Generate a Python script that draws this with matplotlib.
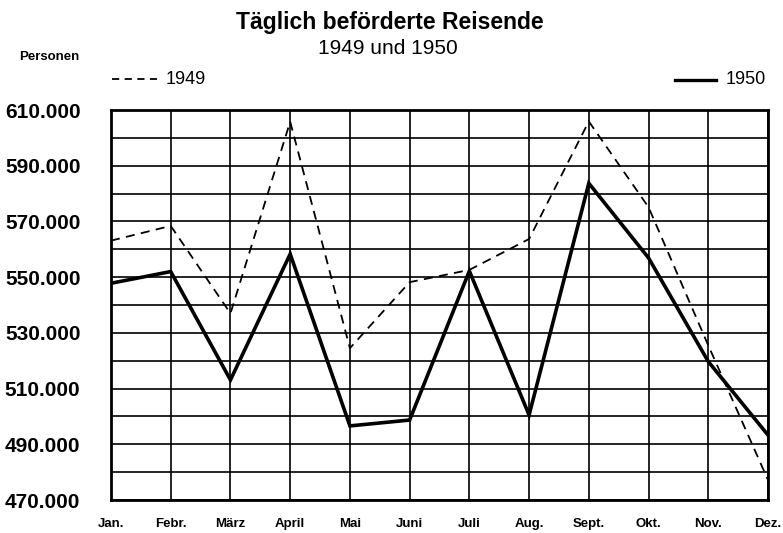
import matplotlib
matplotlib.use("Agg")
import matplotlib.pyplot as plt
from matplotlib.lines import Line2D

months = ["Jan.", "Febr.", "März", "April", "Mai", "Juni", "Juli", "Aug.", "Sept.", "Okt.", "Nov.", "Dez."]
values_1949 = [563100, 568400, 537000, 605800, 524500, 548200, 552600, 563700, 605900, 575100, 525500, 477200]
values_1950 = [547800, 552000, 513100, 558300, 496600, 498700, 552200, 500500, 583700, 556900, 519700, 493300]
ytick_values = [470000, 490000, 510000, 530000, 550000, 570000, 590000, 610000]
ytick_labels = ["470.000", "490.000", "510.000", "530.000", "550.000", "570.000", "590.000", "610.000"]

plt.rcParams['font.family'] = ['Liberation Sans', 'DejaVu Sans']

fig = plt.figure(figsize=(7.83, 5.33), dpi=100)
ax = fig.add_axes([111/783, 1-500/533, (768-111)/783, (500-110)/533])

x = list(range(len(months)))
ax.plot(x, values_1949, color='black', lw=1.3, linestyle=(0, (5, 3.5)), zorder=3)
ax.plot(x, values_1950, color='black', lw=2.6, solid_joinstyle='miter', zorder=4)

ax.set_xlim(0, len(months) - 1)
ax.set_ylim(470000, 610000)

# grid
for i in x:
    ax.axvline(i, color='black', lw=1.2, zorder=1)
for v in range(470000, 610001, 10000):
    ax.axhline(v, color='black', lw=1.2, zorder=1)

for s in ax.spines.values():
    s.set_linewidth(2.0)

ax.set_xticks(x)
ax.set_xticklabels(months, fontsize=9.5, fontweight='bold')
ax.set_yticks(ytick_values)
ax.set_yticklabels(ytick_labels, fontsize=15, fontweight='bold')
ax.tick_params(axis='both', length=0)
ax.tick_params(axis='x', pad=13)
ax.tick_params(axis='y', pad=22)

fig.text(390/783, 1-22/533, "Täglich beförderte Reisende", ha='center', va='center',
         fontsize=16.5, fontweight='bold')
fig.text(388/783, 1-49/533, "1949 und 1950", ha='center', va='center', fontsize=15)
fig.text(49/783, 1-57/533, "Personen", ha='center', va='center', fontsize=9.5, fontweight='bold')

# legend
fig.add_artist(Line2D([112/783, 157/783], [1-79/533, 1-79/533], color='black', lw=1.3,
                      linestyle=(0, (4, 3))))
fig.text(166/783, 1-79/533, "1949", ha='left', va='center', fontsize=13)
fig.add_artist(Line2D([675/783, 716/783], [1-80/533, 1-80/533], color='black', lw=2.4))
fig.text(726/783, 1-79/533, "1950", ha='left', va='center', fontsize=13)

fig.savefig("out.png", dpi=100)
